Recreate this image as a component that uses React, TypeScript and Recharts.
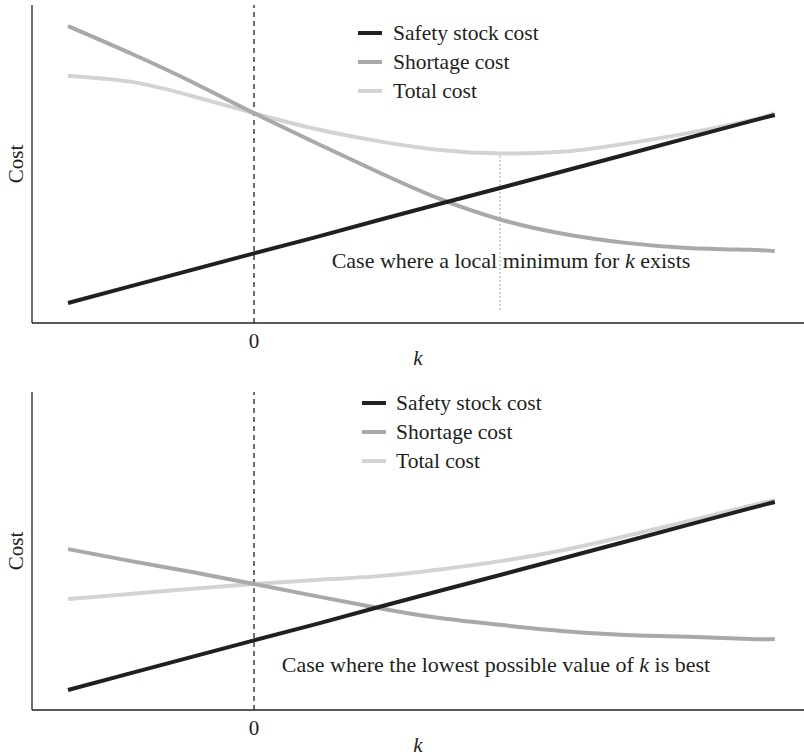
import React from 'react';
import { LineChart, Line, XAxis, YAxis, ReferenceLine, Label } from 'recharts';

// k values (x axis, safety factor)
const kValues = [-3, -2, -1, 0, 1, 2, 3, 4, 5, 6, 7, 8, 8.4];

// Panel 1: case where a local minimum for k exists
const topSafety = [6.3, 11.5, 16.7, 21.9, 27.0, 32.3, 37.5, 42.6, 47.8, 53.0, 58.2, 63.4, 65.4];
const topShortage = [93.4, 84.9, 75.8, 66.0, 56.6, 47.5, 39.0, 32.4, 28.0, 25.2, 23.6, 23.0, 22.6];
const topTotal = [77.7, 75.9, 71.4, 66.0, 61.0, 57.2, 54.4, 53.3, 53.9, 56.4, 59.7, 63.7, 66.0];

// Panel 2: case where the lowest possible value of k is best
const bottomSafety = [6.3, 11.5, 16.7, 21.9, 27.0, 32.3, 37.5, 42.6, 47.8, 53.0, 58.2, 63.4, 65.4];
const bottomShortage = [50.6, 46.9, 43.4, 39.6, 35.8, 32.1, 28.9, 26.7, 24.8, 23.6, 23.0, 22.3, 22.3];
const bottomTotal = [34.9, 36.5, 38.1, 39.6, 40.9, 42.1, 44.2, 46.9, 50.3, 54.7, 59.4, 64.2, 66.0];

const seriesNames = ['Safety stock cost', 'Shortage cost', 'Total cost'];
const seriesColors = ['#231f20', '#a7a9ac', '#d1d3d4'];
const xTicks = [0];
const xTitle = 'k';
const yTitle = 'Cost';

// local minimum marker in panel 1
const topMinK = 3.97;
const topMinCost = 53.3;
const dottedBottomCost = 4.1;

const FONT = '"Liberation Serif", "Times New Roman", serif';
const INK = '#231f20';

const KLabel = (props: any) => {
  const vb = props.viewBox || { x: 32, y: 323, width: 772, height: 55 };
  return (
    <text
      x={vb.x + vb.width / 2}
      y={vb.y + 42}
      textAnchor="middle"
      fontStyle="italic"
      fontFamily={FONT}
      fontSize={21}
      fill={INK}
    >
      {xTitle}
    </text>
  );
};

const CostLabel = (props: any) => {
  const vb = props.viewBox || { x: 0, y: 5, width: 32, height: 318 };
  const cx = 23;
  const cy = vb.y + vb.height / 2;
  return (
    <text
      x={cx}
      y={cy}
      transform={`rotate(-90, ${cx}, ${cy})`}
      textAnchor="middle"
      fontFamily={FONT}
      fontSize={21}
      fill={INK}
    >
      {yTitle}
    </text>
  );
};

type PanelProps = {
  safety: number[];
  shortage: number[];
  total: number[];
  marginTop: number;
  xAxisHeight: number;
  dotted?: boolean;
};

function Panel({ safety, shortage, total, marginTop, xAxisHeight, dotted }: PanelProps) {
  const data = kValues.map((k, i) => ({ k, safety: safety[i], shortage: shortage[i], total: total[i] }));
  return (
    <LineChart width={804} height={378} data={data} margin={{ top: marginTop, right: 0, bottom: 0, left: 0 }}>
      <XAxis
        type="number"
        dataKey="k"
        domain={[-3.5806, 8.871]}
        ticks={xTicks}
        allowDataOverflow
        tickLine={false}
        axisLine={{ stroke: INK, strokeWidth: 1.3 }}
        height={xAxisHeight}
        tick={{ fill: INK, fontSize: 21, fontFamily: FONT }}
        tickMargin={4}
      >
        <Label content={KLabel} />
      </XAxis>
      <YAxis
        type="number"
        domain={[0, 100]}
        width={32}
        tick={false}
        tickLine={false}
        axisLine={{ stroke: INK, strokeWidth: 1.3 }}
      >
        <Label content={CostLabel} />
      </YAxis>
      <ReferenceLine x={0} stroke={INK} strokeDasharray="5 4" strokeWidth={1.3} />
      {dotted && (
        <ReferenceLine
          segment={[
            { x: topMinK, y: dottedBottomCost },
            { x: topMinK, y: topMinCost },
          ]}
          stroke="#b8b8b8"
          strokeDasharray="2 2"
          strokeWidth={1.3}
        />
      )}
      <Line type="natural" dataKey="total" stroke={seriesColors[2]} strokeWidth={4} dot={false} activeDot={false} isAnimationActive={false} />
      <Line type="natural" dataKey="shortage" stroke={seriesColors[1]} strokeWidth={4} dot={false} activeDot={false} isAnimationActive={false} />
      <Line type="linear" dataKey="safety" stroke={seriesColors[0]} strokeWidth={4} dot={false} activeDot={false} isAnimationActive={false} />
    </LineChart>
  );
}

function LegendBox({ left, top, gap }: { left: number; top: number; gap: number }) {
  return (
    <div style={{ position: 'absolute', left, top, fontFamily: FONT, fontSize: 21.5, color: INK }}>
      {seriesNames.map((name, i) => (
        <div key={name} style={{ display: 'flex', alignItems: 'center', height: 29, lineHeight: '29px', whiteSpace: 'nowrap' }}>
          <span style={{ display: 'inline-block', width: 24, height: 4, background: seriesColors[i] }} />
          <span style={{ marginLeft: gap }}>{name}</span>
        </div>
      ))}
    </div>
  );
}

function Note({ center, top, children }: { center: number; top: number; children: React.ReactNode }) {
  return (
    <div
      style={{
        position: 'absolute',
        left: center - 300,
        width: 600,
        top,
        textAlign: 'center',
        fontFamily: FONT,
        fontSize: 22,
        lineHeight: '22px',
        color: INK,
        whiteSpace: 'nowrap',
      }}
    >
      {children}
    </div>
  );
}

export default function App() {
  return (
    <div style={{ position: 'absolute', left: 0, top: 0, width: 804, height: 756, background: '#fff', overflow: 'hidden' }}>
      <div style={{ position: 'absolute', left: 0, top: 0 }}>
        <Panel safety={topSafety} shortage={topShortage} total={topTotal} marginTop={5} xAxisHeight={55} dotted />
      </div>
      <div style={{ position: 'absolute', left: 0, top: 378 }}>
        <Panel safety={bottomSafety} shortage={bottomShortage} total={bottomTotal} marginTop={14} xAxisHeight={46} />
      </div>
      <LegendBox left={358} top={18.5} gap={11} />
      <LegendBox left={362} top={388.5} gap={10} />
      <Note center={511} top={250}>
        Case where a local minimum for <i>k</i> exists
      </Note>
      <Note center={496} top={654}>
        Case where the lowest possible value of <i>k</i> is best
      </Note>
    </div>
  );
}
